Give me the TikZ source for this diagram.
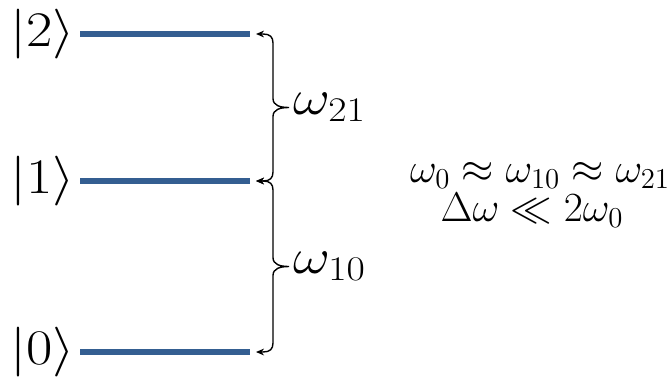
\documentclass[tikz,border=0pt]{standalone}
\usepackage{amsmath,amssymb}
\usetikzlibrary{arrows.meta}
\definecolor{levelc}{RGB}{52,94,145}

\begin{document}
\begin{tikzpicture}[x=0.5pt, y=-0.5pt,
  level/.style={levelc, line width=2.6pt},
  brc/.style={black, line width=0.7pt, {Stealth[length=4pt,width=3.4pt]}-{Stealth[length=4pt,width=3.4pt]}},
  ket/.style={font=\fontsize{27}{32}\selectfont, anchor=east, inner sep=0pt},
  wlbl/.style={font=\fontsize{24}{28}\selectfont, anchor=west, inner sep=2pt},
  rel/.style={font=\fontsize{20}{24}\selectfont, anchor=base, inner sep=0pt}]
  \useasboundingbox (0,0) rectangle (672,380);
  % energy levels
  \foreach \n/\y in {2/34,1/181,0/352} {
    \coordinate (s\n) at (80,\y);
    \coordinate (e\n) at (250,\y);
    \draw[level] (s\n) -- (e\n);
    \node[ket, xshift=-2.5pt] (k\n) at (s\n) {\scalebox{1.15}[1]{$|\n\rangle$}};
  }
  % transition braces
  \foreach \ya/\yb/\lab in {34/181/21, 181/352/10} {
    \pgfmathsetmacro\ym{(\ya+\yb)/2}
    \draw[brc] (256,\ya) -- (263,\ya) .. controls (270,\ya) and (273,\ya+3) .. (273,\ya+9)
      -- (273,\ym-9) .. controls (273,\ym-2) and (280,\ym) .. (289,\ym)
      .. controls (280,\ym) and (273,\ym+2) .. (273,\ym+9)
      -- (273,\yb-9) .. controls (273,\yb-3) and (270,\yb) .. (263,\yb) -- (256,\yb);
    \node[wlbl] (w\lab) at (289,\ym) {\scalebox{1.15}[1]{$\omega_{\lab}$}};
  }
  % conditions
  \node[rel] (rel1) at (540,182) {$\omega_0 \approx \omega_{10} \approx \omega_{21}$};
  \node[rel] (rel2) at (532,221) {$\Delta\omega \ll 2\omega_0$};
\end{tikzpicture}
\end{document}
